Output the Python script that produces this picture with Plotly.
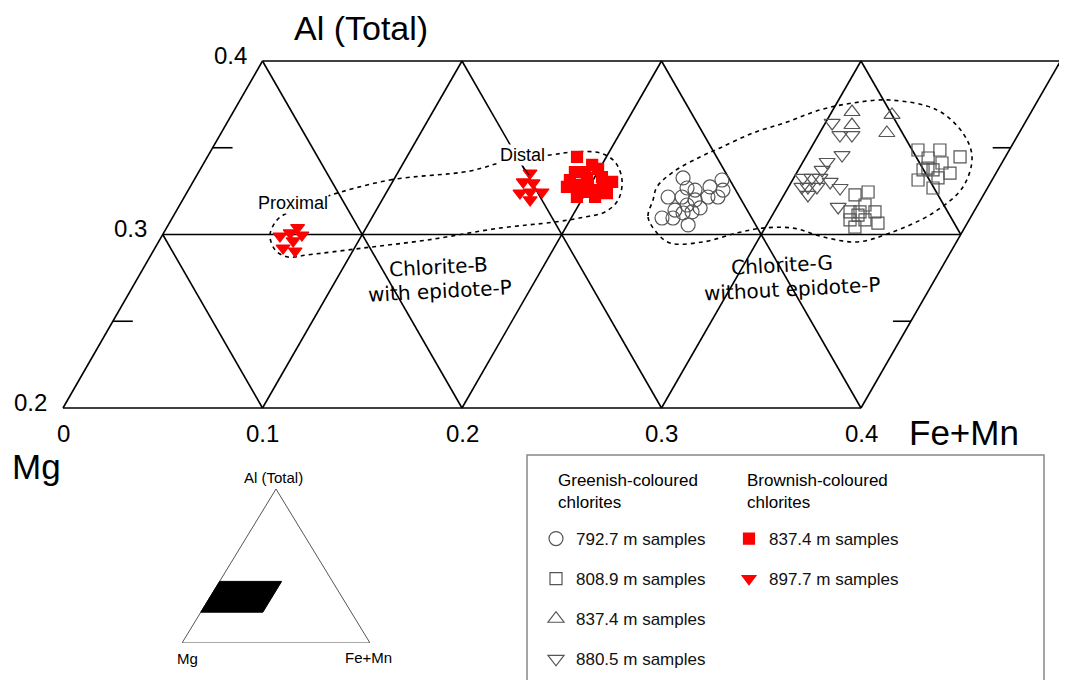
import plotly.graph_objects as go

# ---------------- data: ternary compositions (Fe+Mn fraction, Al(total) fraction); Mg = 1 - Fe - Al
# Greenish-coloured chlorites
circ_792_fe = [0.2445, 0.2646, 0.2494, 0.2540, 0.2606, 0.2680, 0.2425, 0.2495, 0.2569, 0.2625,
               0.2675, 0.2543, 0.2617, 0.2497, 0.2546, 0.2588, 0.2455, 0.2510, 0.2606]
circ_792_al = [0.3326, 0.3314, 0.3268, 0.3256, 0.3274, 0.3256, 0.3216, 0.3216, 0.3199, 0.3216,
               0.3216, 0.3170, 0.3153, 0.3141, 0.3124, 0.3130, 0.3095, 0.3095, 0.3055]

sq_809_fe = [0.3356, 0.3413, 0.3435, 0.3380, 0.3430, 0.3505, 0.3403, 0.3478, 0.3552, 0.3448, 0.3429,
             0.3542, 0.3652, 0.3773, 0.3616, 0.3700, 0.3625, 0.3675, 0.3769, 0.3629, 0.3723, 0.3727, 0.3644]
sq_809_al = [0.3228, 0.3245, 0.3170, 0.3130, 0.3130, 0.3130, 0.3084, 0.3084, 0.3066, 0.3043, 0.3112,
             0.3487, 0.3487, 0.3447, 0.3441, 0.3412, 0.3372, 0.3372, 0.3354, 0.3314, 0.3326, 0.3268, 0.3383]

tri_837_fe = [0.3102, 0.3311, 0.3139, 0.3337]
tri_837_al = [0.3706, 0.3689, 0.3631, 0.3585]

itri_880_fe = [0.3034, 0.3108, 0.3168, 0.3176, 0.3121, 0.3119, 0.3046, 0.3091, 0.3131, 0.3194,
               0.3067, 0.3097, 0.3142, 0.3261, 0.3120, 0.3306]
itri_880_al = [0.3643, 0.3573, 0.3573, 0.3458, 0.3418, 0.3372, 0.3326, 0.3326, 0.3326, 0.3303,
               0.3274, 0.3274, 0.3274, 0.3268, 0.3228, 0.3159]

# Brownish-coloured chlorites
rsq_837_fe = [0.1853, 0.1952, 0.1886, 0.1937, 0.1993, 0.2036, 0.2101, 0.1889, 0.1938, 0.1989,
              0.2064, 0.1968, 0.2059, 0.2107, 0.1964, 0.1884, 0.2039, 0.1985]
rsq_837_al = [0.3447, 0.3401, 0.3360, 0.3360, 0.3378, 0.3331, 0.3303, 0.3274, 0.3285, 0.3285,
              0.3285, 0.3216, 0.3216, 0.3239, 0.3326, 0.3314, 0.3256, 0.3245]

rtri_898_fe = [0.0656, 0.0592, 0.0634, 0.0699, 0.0672, 0.0642, 0.0711,
               0.1664, 0.1655, 0.1708, 0.1671, 0.1719, 0.1779, 0.1742]
rtri_898_al = [0.3040, 0.2991, 0.3009, 0.2997, 0.2963, 0.2922, 0.2905,
               0.3354, 0.3303, 0.3297, 0.3239, 0.3245, 0.3245, 0.3199]

# Field outlines (Fe+Mn, Al)
fieldB_fe = [0.0717, 0.0982, 0.1357, 0.1526, 0.1712, 0.1828, 0.1957, 0.2058, 0.2145, 0.2183, 0.2152,
             0.2067, 0.1930, 0.1671, 0.1341, 0.1043, 0.0782, 0.0693, 0.0608, 0.0539, 0.0531, 0.0561,
             0.0628, 0.0717]
fieldB_al = [0.3222, 0.3314, 0.3366, 0.3429, 0.3458, 0.3476, 0.3470, 0.3418, 0.3314, 0.3199, 0.3130,
             0.3101, 0.3072, 0.3037, 0.2968, 0.2922, 0.2882, 0.2870, 0.2911, 0.2997, 0.3084, 0.3124,
             0.3170, 0.3222]
fieldG_fe = [0.2358, 0.2382, 0.2473, 0.2567, 0.2730, 0.2874, 0.2990, 0.3140, 0.3317, 0.3502, 0.3641,
             0.3799, 0.3874, 0.3833, 0.3718, 0.3522, 0.3257, 0.3081, 0.2935, 0.2805, 0.2666, 0.2544,
             0.2470, 0.2378, 0.2340, 0.2358]
fieldG_al = [0.3199, 0.3101, 0.3009, 0.2951, 0.2957, 0.3009, 0.3037, 0.3037, 0.2986, 0.2957, 0.3009,
             0.3124, 0.3274, 0.3447, 0.3585, 0.3718, 0.3775, 0.3758, 0.3718, 0.3648, 0.3585, 0.3499,
             0.3447, 0.3360, 0.3274, 0.3199]

# Diagram window and ticks
al_ticks = [0.2, 0.3, 0.4]
fe_ticks = [0.0, 0.1, 0.2, 0.3, 0.4]
mg_lines = [0.7, 0.6, 0.5, 0.4, 0.3]
al_minor = [0.25, 0.35]
inset_fe_max = 0.33

FONT = "Arial, Liberation Sans, Helvetica, sans-serif"

# page offset (browser body margin) and figure size
OFF = 8
W, H = 1067 - OFF, 680 - OFF


def tx(fe, al):
    return [f + a / 2 for f, a in zip(fe, al)]


def px(x):
    return (x - OFF) / W


def py(y):
    return 1 - (y - OFF) / H


fig = go.Figure()

# ---------------- grid of the zoomed ternary window
gx, gy = [], []
for a in al_ticks:
    fe = [fe_ticks[0], fe_ticks[-1]]
    al = [a, a]
    gx += tx(fe, al) + [None]
    gy += al + [None]
for f in fe_ticks:
    fe = [f, f]
    al = [al_ticks[0], al_ticks[-1]]
    gx += tx(fe, al) + [None]
    gy += al + [None]
for m in mg_lines:
    s = 1 - m
    a0 = max(al_ticks[0], s - fe_ticks[-1])
    a1 = min(al_ticks[-1], s - fe_ticks[0])
    al = [a0, a1]
    fe = [s - a0, s - a1]
    gx += tx(fe, al) + [None]
    gy += al + [None]
# minor ticks on left and right edges
for a in al_minor:
    xl = tx([fe_ticks[0]], [a])[0]
    xr = tx([fe_ticks[-1]], [a])[0]
    gx += [xl, xl + 0.01, None, xr - 0.009, xr, None]
    gy += [a, a, None, a, a, None]
fig.add_trace(go.Scatter(x=gx, y=gy, mode="lines", line=dict(color="black", width=1.6),
                         hoverinfo="skip", showlegend=False))

# ---------------- field outlines
for fe, al in [(fieldB_fe, fieldB_al), (fieldG_fe, fieldG_al)]:
    fig.add_trace(go.Scatter(x=tx(fe, al), y=al, mode="lines",
                             line=dict(color="black", width=1.6, dash="4px,4px", shape="spline", smoothing=1.0),
                             hoverinfo="skip", showlegend=False))

# ---------------- inset whole triangle
fig.add_trace(go.Scatter(x=tx([0, 1, 0, 0], [0, 0, 1, 0]), y=[0, 0, 1, 0], mode="lines",
                         line=dict(color="#555", width=1), xaxis="x2", yaxis="y2",
                         hoverinfo="skip", showlegend=False))
pf = [0, inset_fe_max, inset_fe_max, 0, 0]
pa = [0.2, 0.2, 0.4, 0.4, 0.2]
fig.add_trace(go.Scatter(x=tx(pf, pa), y=pa, mode="lines", fill="toself", fillcolor="black",
                         line=dict(color="black", width=1), xaxis="x2", yaxis="y2",
                         hoverinfo="skip", showlegend=False))

# ---------------- data points
gray = "#555555"
series = [
    ("792.7 m samples", circ_792_fe, circ_792_al, "circle-open", 14, gray, "legend"),
    ("808.9 m samples", sq_809_fe, sq_809_al, "square-open", 12, gray, "legend"),
    ("837.4 m samples", tri_837_fe, tri_837_al, "triangle-up-open", 14, gray, "legend"),
    ("880.5 m samples", itri_880_fe, itri_880_al, "triangle-down-open", 14, gray, "legend"),
    ("837.4 m samples", rsq_837_fe, rsq_837_al, "square", 11, "#ff0000", "legend2"),
    ("897.7 m samples", rtri_898_fe, rtri_898_al, "triangle-down", 12, "#ff0000", "legend2"),
]
for i, (name, fe, al, sym, size, col, leg) in enumerate(series):
    fig.add_trace(go.Scatter(
        x=tx(fe, al), y=al, mode="markers", name=name, legend=leg, legendgroup=f"g{i}",
        marker=dict(symbol=sym, size=size, color=col, line=dict(color=col, width=1.2)),
    ))

# ---------------- annotations
ann = []
for a in al_ticks:
    ann.append(dict(x=tx([0], [a])[0], y=a, xref="x", yref="y", text=f"{a:.1f}", showarrow=False,
                    xanchor="right", yanchor="middle", xshift=-14, yshift=6,
                    font=dict(family=FONT, size=24, color="black")))
for f in fe_ticks:
    lab = "0" if f == 0 else f"{f:.1f}"
    ann.append(dict(x=tx([f], [al_ticks[0]])[0], y=al_ticks[0], xref="x", yref="y", text=lab,
                    showarrow=False, xanchor="center", yanchor="top", yshift=-10,
                    font=dict(family=FONT, size=24, color="black")))


def pa_(x, y, text, size, family=FONT, **kw):
    d = dict(x=px(x), y=py(y), xref="paper", yref="paper", text=text, showarrow=False,
             xanchor="center", yanchor="middle", font=dict(family=family, size=size, color="black"))
    d.update(kw)
    return d


DV = "DejaVu Sans"
ann += [
    pa_(361, 8, "Al (Total)", 34, yanchor="top", borderpad=0),
    pa_(964, 432, "Fe+Mn", 35),
    pa_(36, 466, "Mg", 35),
    pa_(293, 203, "Proximal", 18, bgcolor="white", borderpad=0),
    pa_(522, 155, "Distal", 18, bgcolor="white", borderpad=0),
    pa_(438, 267, "Chlorite-B", 20, family=DV, textangle=-3),
    pa_(440, 291, "with epidote-P", 20, family=DV, textangle=-3),
    pa_(782, 265, "Chlorite-G", 20, family=DV, textangle=-3),
    pa_(792, 289, "without epidote-P", 20, family=DV, textangle=-3),
    # inset labels
    pa_(273, 477, "Al (Total)", 15),
    pa_(187, 658, "Mg", 15),
    pa_(368, 657, "Fe+Mn", 15),
    # legend headers
    pa_(556, 469, "Greenish-coloured<br>chlorites", 17, xanchor="left", yanchor="top", align="left"),
    pa_(745, 469, "Brownish-coloured<br>chlorites", 17, xanchor="left", yanchor="top", align="left"),
]

shapes = [
    dict(type="rect", xref="paper", yref="paper", x0=px(527), x1=px(1044),
         y0=py(700), y1=py(455), line=dict(color="#888", width=1.5)),
    dict(type="line", xref="paper", yref="paper", x0=px(522), x1=px(529),
         y0=py(165), y1=py(175), line=dict(color="black", width=1.2)),
]

leg_common = dict(xanchor="left", yanchor="top", bgcolor="rgba(0,0,0,0)", traceorder="grouped",
                  tracegroupgap=15, font=dict(family=FONT, size=17, color="#111"), itemsizing="trace")

fig.update_layout(
    width=W, height=H, margin=dict(l=0, r=0, t=0, b=0),
    paper_bgcolor="white", plot_bgcolor="white",
    xaxis=dict(range=[0.1 + (OFF - 63) / 1995, 0.1 + (1067 - 63) / 1995], visible=False, domain=[0, 1]),
    yaxis=dict(range=[0.2 - (680 - 408) / 1735, 0.2 + (408 - OFF) / 1735], visible=False, domain=[0, 1]),
    xaxis2=dict(range=[0, 1], visible=False, domain=[px(182), px(370)], anchor="y2"),
    yaxis2=dict(range=[0, 1], visible=False, domain=[py(643), py(489)], anchor="x2"),
    legend=dict(x=px(536), y=py(521), **leg_common),
    legend2=dict(x=px(729), y=py(521), **leg_common),
    annotations=ann, shapes=shapes, showlegend=True,
)

fig.write_html("out.html")
